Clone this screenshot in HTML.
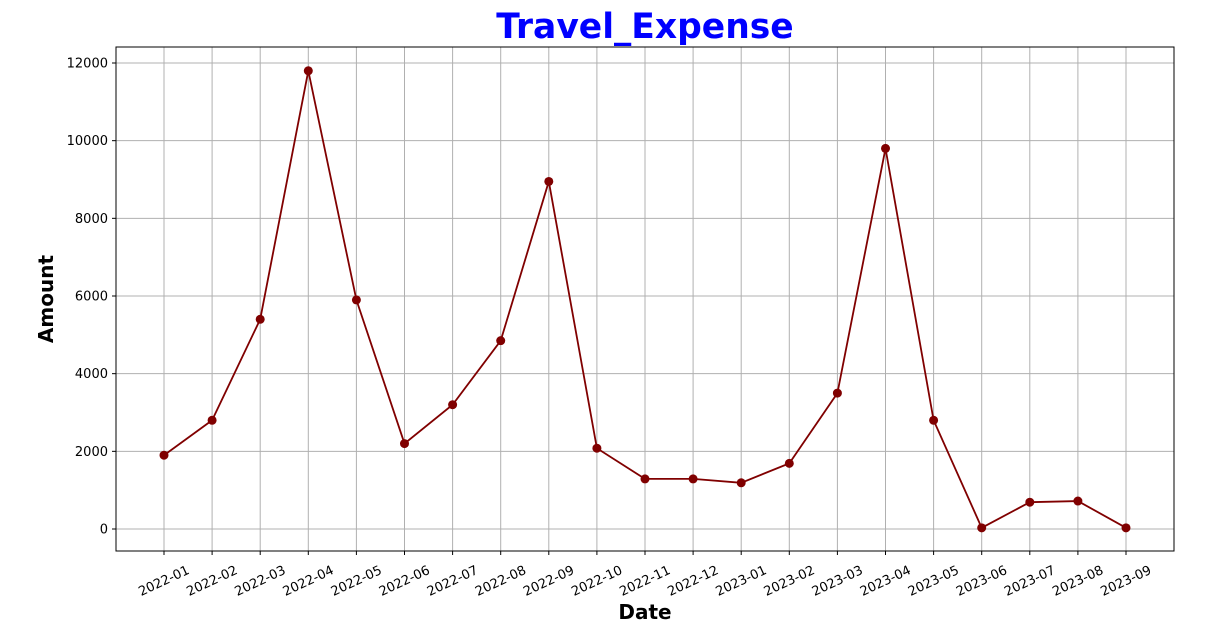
<!DOCTYPE html>
<html><head><meta charset="utf-8"><style>
body{margin:0;background:#fff;font-family:"Liberation Sans","DejaVu Sans",sans-serif}
svg text{font-family:"DejaVu Sans","Liberation Sans",sans-serif}
</style></head><body>
<svg id="c" width="1208" height="622"></svg>
<script>
const categories=["2022-01","2022-02","2022-03","2022-04","2022-05","2022-06","2022-07","2022-08","2022-09","2022-10","2022-11","2022-12","2023-01","2023-02","2023-03","2023-04","2023-05","2023-06","2023-07","2023-08","2023-09"];
const amounts=[1900,2800,5400,11800,5900,2200,3200,4850,8950,2080,1290,1290,1190,1690,3500,9800,2800,30,690,720,30];
const yTicks=[0,2000,4000,6000,8000,10000,12000];
const L=116,R=1174,T=47,B=551;
const x0=164,x1=1126;
function xs(i){return x0+(x1-x0)*i/(categories.length-1);}
function ys(v){return 529-(529-63)*v/12000;}
const svg=document.getElementById('c');const NS="http://www.w3.org/2000/svg";
function mk(t,a,txt){const e=document.createElementNS(NS,t);for(const k in a)e.setAttribute(k,a[k]);if(txt!==undefined)e.textContent=txt;svg.appendChild(e);return e;}
let e;
yTicks.forEach(v=>{const y=ys(v);
e=mk('line',{x1:L,x2:R,y1:y,y2:y,stroke:'#b0b0b0','stroke-width':1});


e=mk('line',{x1:L-4,x2:L,y1:y,y2:y,stroke:'#000'});


e=mk('text',{x:L-8,y:y+4.5,'text-anchor':'end','font-size':13},v);


});
categories.forEach((c,i)=>{const x=xs(i);
e=mk('line',{x1:x,x2:x,y1:T,y2:B,stroke:'#b0b0b0','stroke-width':1});


e=mk('line',{x1:x,x2:x,y1:B,y2:B+4,stroke:'#000'});


e=mk('text',{x:x,y:B+34,'text-anchor':'middle','font-size':13,transform:`rotate(-25 ${x} ${B+30})`},c);


});
e=mk('rect',{x:L,y:T,width:R-L,height:B-T,fill:'none',stroke:'#000','stroke-width':1});


e=mk('polyline',{points:amounts.map((v,i)=>xs(i)+','+ys(v)).join(' '),fill:'none',stroke:'#800000','stroke-width':1.8});


amounts.forEach((v,i)=>{e=mk('circle',{cx:xs(i),cy:ys(v),r:4.5,fill:'#800000'});

});
e=mk('text',{x:645,y:38,'text-anchor':'middle','font-size':34.5,'font-weight':'bold',fill:'#0000ff'},'Travel_Expense');


e=mk('text',{x:645,y:619,'text-anchor':'middle','font-size':20,'font-weight':'bold'},'Date');


e=mk('text',{x:53,y:299,'text-anchor':'middle','font-size':20,'font-weight':'bold',transform:'rotate(-90 53 299)'},'Amount');


</script></body></html>
